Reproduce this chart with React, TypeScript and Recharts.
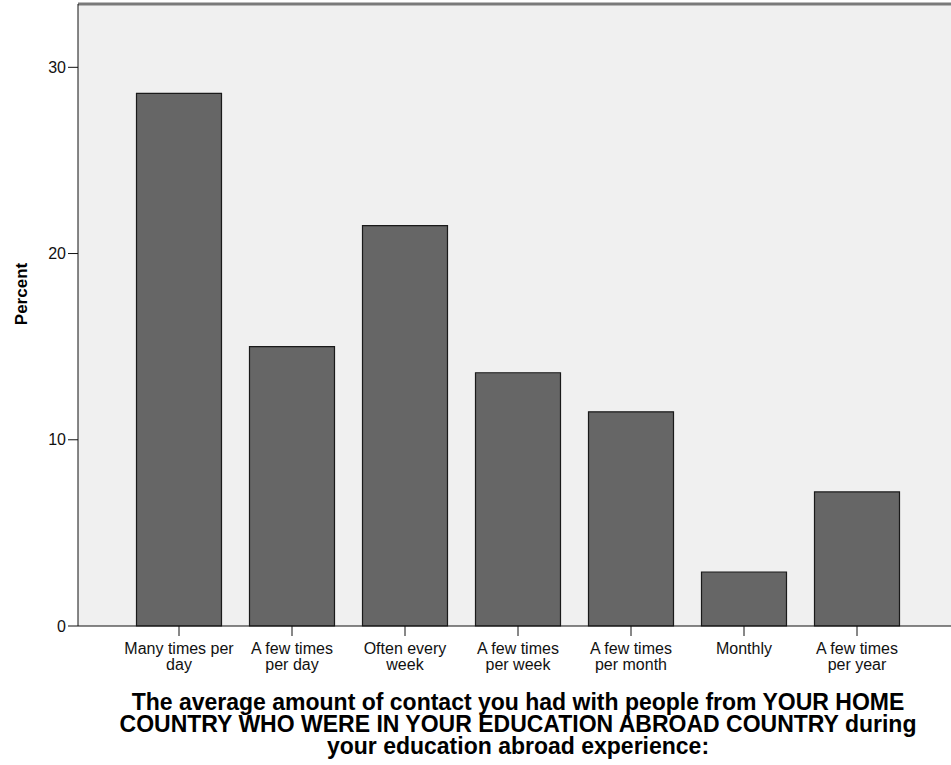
import React from 'react';
import { BarChart, Bar, XAxis, YAxis, CartesianGrid, ReferenceLine, Label } from 'recharts';

const categories = [
  'Many times per day',
  'A few times per day',
  'Often every week',
  'A few times per week',
  'A few times per month',
  'Monthly',
  'A few times per year',
];
const tickLines = [
  ['Many times per', 'day'],
  ['A few times', 'per day'],
  ['Often every', 'week'],
  ['A few times', 'per week'],
  ['A few times', 'per month'],
  ['Monthly'],
  ['A few times', 'per year'],
];
const percents = [28.6, 15.0, 21.5, 13.6, 11.5, 2.9, 7.2];
const yTicks = [0, 10, 20, 30];
const yMax = 33.4;
const titleLines = [
  'The average amount of contact you had with people from YOUR HOME',
  'COUNTRY WHO WERE IN YOUR EDUCATION ABROAD COUNTRY during',
  'your education abroad experience:',
];

const data = categories.map((c, i) => ({ name: c, percent: percents[i] }));

const FONT = '"Liberation Sans", Arial, sans-serif';

function CategoryTick(props: any) {
  const { x, y, index } = props;
  const lines = tickLines[index] || [];
  return (
    <text x={x} y={y + 16} textAnchor="middle" fontFamily={FONT} fontSize={16} fill="#111">
      {lines.map((l, i) => (
        <tspan key={i} x={x} dy={i === 0 ? 0 : 16}>{l}</tspan>
      ))}
    </text>
  );
}

export default function App() {
  return (
    <div style={{ position: 'absolute', left: 0, top: 0, width: 951, height: 765, overflow: 'hidden', background: '#fff' }}>
      <BarChart
        width={960}
        height={765}
        data={data}
        margin={{ top: 4, right: 2, left: 0, bottom: 99 }}
        barCategoryGap={14}
      >
        <CartesianGrid horizontal={false} vertical={false} fill="#f0f0f0" />
        <ReferenceLine y={yMax} stroke="#7a7a7a" strokeWidth={3} />
        <XAxis
          dataKey="name"
          padding={{ left: 44.5, right: 44.5 }}
          stroke="#111"
          tickSize={10}
          interval={0}
          tick={<CategoryTick />}
          height={40}
        />
        <YAxis
          domain={[0, yMax]}
          ticks={yTicks}
          width={78}
          stroke="#111"
          tickSize={10}
          tick={{ fontFamily: FONT, fontSize: 16, fill: '#111' }}
        >
          <Label
            content={() => (
              <text
                x={27}
                y={294}
                transform="rotate(-90 27 294)"
                textAnchor="middle"
                fontFamily={FONT}
                fontWeight="bold"
                fontSize={17}
                fill="#000"
              >
                Percent
              </text>
            )}
          />
        </YAxis>
        <Bar dataKey="percent" fill="#666666" stroke="#1a1a1a" strokeWidth={1.2} isAnimationActive={false} />
      </BarChart>
      <div
        style={{
          position: 'absolute',
          left: 58,
          width: 920,
          top: 691,
          textAlign: 'center',
          fontFamily: FONT,
          fontWeight: 'bold',
          fontSize: 23,
          lineHeight: '22px',
          color: '#000',
          whiteSpace: 'nowrap',
        }}
      >
        {titleLines.map((t, i) => (
          <div key={i}>{t}</div>
        ))}
      </div>
    </div>
  );
}
